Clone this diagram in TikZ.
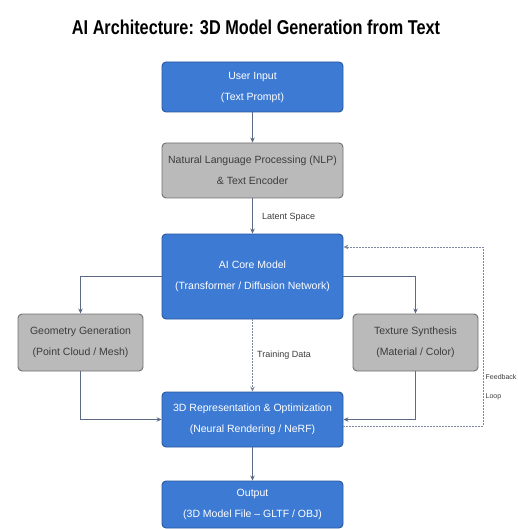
\documentclass[tikz,border=0pt]{standalone}
\usepackage{fontspec}
\setmainfont{Liberation Sans}
\usetikzlibrary{arrows.meta}
\definecolor{boxblue}{RGB}{60,122,212}
\definecolor{boxblueedge}{RGB}{42,86,160}
\definecolor{boxgray}{RGB}{186,186,186}
\definecolor{boxgrayedge}{RGB}{112,112,112}
\definecolor{conn}{RGB}{92,106,132}
\definecolor{lbl}{RGB}{60,60,60}
\tikzset{
  base/.style={rectangle, rounded corners=4pt, line width=0.9pt, inner sep=0pt, align=center,
    font=\fontsize{10.5}{21}\selectfont},
  bluebox/.style={base, fill=boxblue, draw=boxblueedge, text=white},
  graybox/.style={base, fill=boxgray, draw=boxgrayedge, text=lbl},
  arr/.style={draw=conn, line width=1.1pt, -{Stealth[length=5pt,width=4.5pt]}},
  darr/.style={draw=conn!80, line width=0.8pt, dash pattern=on 1.5pt off 1.5pt, -{Stealth[length=5pt,width=4.5pt]}},
  lab/.style={font=\fontsize{9}{11}\selectfont, text=lbl, inner sep=0pt}
}
\begin{document}
\begin{tikzpicture}[x=1pt,y=-1pt]
\useasboundingbox (0,0) rectangle (518,529);
\node[anchor=base, inner sep=0pt] (title) at (256,35) {\resizebox{368pt}{14.5pt}{\bfseries AI Architecture: 3D Model Generation from Text}};
\node[bluebox, minimum width=181pt, minimum height=50pt] (in) at (252.5,87) {User Input\\(Text Prompt)};
\node[graybox, minimum width=181pt, minimum height=55pt] (nlp) at (252.5,170.5) {Natural Language Processing (NLP)\\\& Text Encoder};
\node[bluebox, minimum width=181pt, minimum height=85pt] (core) at (252.5,276.5) {AI Core Model\\(Transformer / Diffusion Network)};
\node[graybox, minimum width=125pt, minimum height=57pt] (geo) at (80.5,342.5) {Geometry Generation\\(Point Cloud / Mesh)};
\node[graybox, minimum width=125pt, minimum height=57pt] (tex) at (415.5,342.5) {Texture Synthesis\\(Material / Color)};
\node[bluebox, minimum width=181pt, minimum height=55pt] (rep) at (252.5,419.5) {3D Representation \& Optimization\\(Neural Rendering / NeRF)};
\node[bluebox, minimum width=181pt, minimum height=47pt] (out) at (252.5,504.5) {Output\\(3D Model File -- GLTF / OBJ)};
\coordinate (fbx) at (483,336);
\draw[arr] (in) -- (nlp);
\draw[arr] (nlp) -- (core);
\node[lab, anchor=west] (latent) at (262,217) {Latent Space};
\draw[arr] (core.west) -| (geo.north);
\draw[arr] (core.east) -| (tex.north);
\draw[arr] (geo.south) |- (rep.west);
\draw[arr] (tex.south) |- (rep.east);
\draw[darr] (core.south) -- (rep.north);
\node[lab, anchor=west] (train) at (257,355) {Training Data};
\draw[arr] (rep) -- (out);
\draw[darr] ([yshift=-6.5pt]rep.east) -| (fbx) |- ([yshift=29.5pt]core.east);
\node[lab, anchor=west, align=left, font=\fontsize{7}{19}\selectfont] (fb) at (485.5,387) {Feedback\\Loop};
\end{tikzpicture}
\end{document}
